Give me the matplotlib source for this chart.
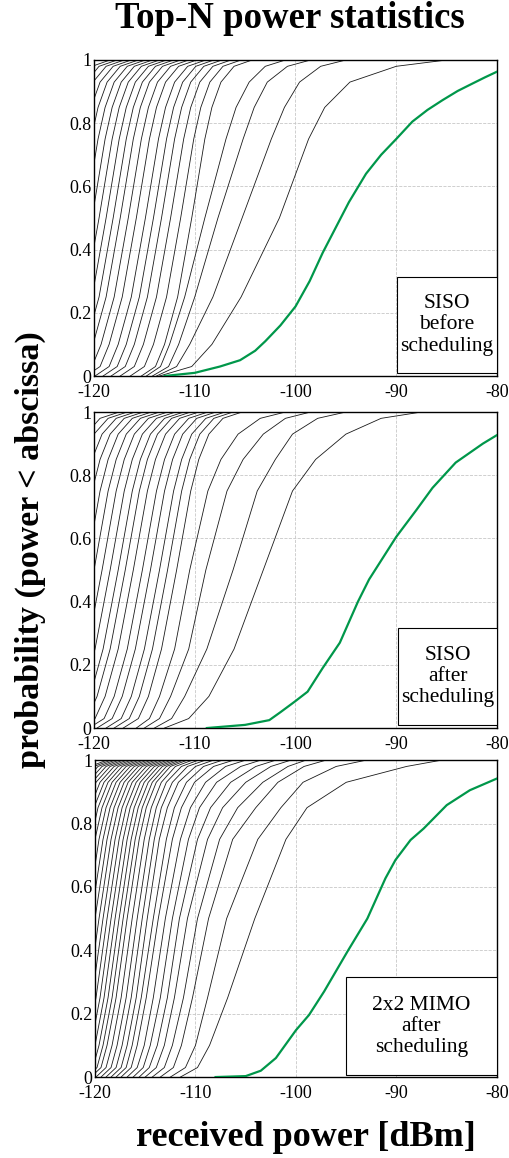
import matplotlib
matplotlib.use('Agg')
import matplotlib.pyplot as plt
from matplotlib.patches import Rectangle

plt.rcParams['font.family'] = ['Liberation Serif', 'DejaVu Serif']

prob_levels = [0, 0.03, 0.1, 0.25, 0.5, 0.75, 0.85, 0.93, 0.98, 1.0]

# SISO before scheduling: received power [dBm] at each probability level (top-2 ... top-N)
siso_before_black = [
    [-113.5, -110.3, -108.3, -105.4, -101.6, -98.7, -97.1, -94.6, -90.0, -85.0],
    [-113.8, -111.8, -110.5, -108.2, -105.3, -102.4, -101.1, -99.6, -97.5, -95.0],
    [-114.2, -112.6, -111.6, -110.0, -107.7, -105.2, -104.1, -102.8, -100.8, -98.5],
    [-114.8, -113.4, -112.5, -111.0, -109.0, -106.9, -105.9, -104.6, -103.0, -101.0],
    [-115.3, -113.9, -113.0, -111.7, -110.3, -109.0, -108.3, -107.4, -106.1, -104.3],
    [-116.4, -115.0, -114.1, -112.8, -111.4, -110.1, -109.4, -108.5, -107.2, -105.4],
    [-117.4, -116.0, -115.1, -113.8, -112.4, -111.1, -110.4, -109.5, -108.2, -106.4],
    [-118.3, -116.9, -116.0, -114.7, -113.3, -112.0, -111.3, -110.4, -109.1, -107.3],
    [-119.1, -117.7, -116.8, -115.5, -114.1, -112.8, -112.1, -111.2, -109.9, -108.1],
    [-119.9, -118.5, -117.6, -116.3, -114.9, -113.6, -112.9, -112.0, -110.7, -108.9],
    [-120.8, -119.4, -118.5, -117.2, -115.8, -114.5, -113.8, -112.9, -111.6, -109.8],
    [-121.6, -120.2, -119.3, -118.0, -116.6, -115.3, -114.6, -113.7, -112.4, -110.6],
    [-122.4, -121.0, -120.1, -118.8, -117.4, -116.1, -115.4, -114.5, -113.2, -111.4],
    [-123.1, -121.7, -120.8, -119.5, -118.1, -116.8, -116.1, -115.2, -113.9, -112.1],
    [-123.8, -122.4, -121.5, -120.2, -118.8, -117.5, -116.8, -115.9, -114.6, -112.8],
    [-124.5, -123.1, -122.2, -120.9, -119.5, -118.2, -117.5, -116.6, -115.3, -113.5],
    [-125.2, -123.8, -122.9, -121.6, -120.2, -118.9, -118.2, -117.3, -116.0, -114.2],
    [-125.9, -124.5, -123.6, -122.3, -120.9, -119.6, -118.9, -118.0, -116.7, -114.9],
    [-126.6, -125.2, -124.3, -123.0, -121.6, -120.3, -119.6, -118.7, -117.4, -115.6],
    [-127.3, -125.9, -125.0, -123.7, -122.3, -121.0, -120.3, -119.4, -118.1, -116.3],
    [-128.0, -126.6, -125.7, -124.4, -123.0, -121.7, -121.0, -120.1, -118.8, -117.0],
    [-128.7, -127.3, -126.4, -125.1, -123.7, -122.4, -121.7, -120.8, -119.5, -117.7],
    [-129.4, -128.0, -127.1, -125.8, -124.4, -123.1, -122.4, -121.5, -120.2, -118.4],
]
siso_before_green_x = [-113.0, -110.0, -107.5, -105.5, -104.0, -103.0, -101.5, -100.0,
                       -98.6, -97.3, -96.0, -94.7, -93.0, -91.5, -90.0, -88.4, -86.9,
                       -85.4, -83.9, -82.4, -81.2, -80.0]
siso_before_green_p = [0.0, 0.01, 0.03, 0.05, 0.08, 0.11, 0.16, 0.22,
                       0.30, 0.39, 0.47, 0.55, 0.64, 0.70, 0.75, 0.805, 0.842,
                       0.873, 0.902, 0.926, 0.945, 0.963]

# SISO after scheduling
siso_after_black = [
    [-113.0, -110.6, -108.6, -106.1, -103.2, -100.3, -98.0, -95.0, -91.5, -87.5],
    [-114.0, -112.3, -111.0, -108.8, -106.2, -103.8, -102.0, -100.3, -97.8, -95.0],
    [-115.0, -113.5, -112.4, -110.6, -108.9, -106.8, -105.2, -103.2, -101.0, -98.5],
    [-115.8, -114.5, -113.5, -112.0, -110.5, -108.7, -107.4, -105.7, -103.5, -101.0],
    [-117.1, -115.6, -114.6, -113.3, -111.8, -110.4, -109.6, -108.6, -107.2, -105.3],
    [-118.0, -116.5, -115.5, -114.2, -112.7, -111.3, -110.5, -109.5, -108.1, -106.2],
    [-118.8, -117.3, -116.3, -115.0, -113.5, -112.1, -111.3, -110.3, -108.9, -107.0],
    [-119.7, -118.2, -117.2, -115.9, -114.4, -113.0, -112.2, -111.2, -109.8, -107.9],
    [-120.5, -119.0, -118.0, -116.7, -115.2, -113.8, -113.0, -112.0, -110.6, -108.7],
    [-121.4, -119.9, -118.9, -117.6, -116.1, -114.7, -113.9, -112.9, -111.5, -109.6],
    [-122.2, -120.7, -119.7, -118.4, -116.9, -115.5, -114.7, -113.7, -112.3, -110.4],
    [-122.9, -121.4, -120.4, -119.1, -117.6, -116.2, -115.4, -114.4, -113.0, -111.1],
    [-123.7, -122.2, -121.2, -119.9, -118.4, -117.0, -116.2, -115.2, -113.8, -111.9],
    [-124.5, -123.0, -122.0, -120.7, -119.2, -117.8, -117.0, -116.0, -114.6, -112.7],
    [-125.3, -123.8, -122.8, -121.5, -120.0, -118.6, -117.8, -116.8, -115.4, -113.5],
    [-126.1, -124.6, -123.6, -122.3, -120.8, -119.4, -118.6, -117.6, -116.2, -114.3],
    [-126.9, -125.4, -124.4, -123.1, -121.6, -120.2, -119.4, -118.4, -117.0, -115.1],
    [-127.7, -126.2, -125.2, -123.9, -122.4, -121.0, -120.2, -119.2, -117.8, -115.9],
    [-128.5, -127.0, -126.0, -124.7, -123.2, -121.8, -121.0, -120.0, -118.6, -116.7],
    [-129.3, -127.8, -126.8, -125.5, -124.0, -122.6, -121.8, -120.8, -119.4, -117.5],
]
siso_after_green_x = [-108.8, -105.0, -102.6, -101.5, -100.1, -98.8, -97.3, -95.6, -93.8,
                      -92.7, -91.7, -90.0, -88.0, -86.4, -84.1, -81.4, -80.0]
siso_after_green_p = [0.0, 0.01, 0.025, 0.05, 0.083, 0.115, 0.19, 0.27, 0.40,
                      0.47, 0.52, 0.605, 0.69, 0.76, 0.84, 0.90, 0.927]

# 2x2 MIMO after scheduling
mimo_after_black = [
    [-111.5, -109.8, -108.6, -106.8, -104.1, -101.0, -98.9, -95.0, -89.0, -85.5],
    [-112.5, -111.0, -110.0, -108.8, -106.9, -103.8, -101.5, -99.3, -96.0, -93.0],
    [-113.5, -112.2, -111.4, -110.3, -108.7, -106.3, -104.0, -101.8, -99.2, -97.0],
    [-114.3, -113.1, -112.3, -111.2, -109.8, -107.6, -105.8, -103.3, -100.8, -99.0],
    [-115.0, -113.9, -113.1, -112.1, -110.8, -108.8, -107.3, -105.0, -102.5, -100.5],
    [-115.6, -114.6, -113.8, -112.8, -111.6, -109.8, -108.5, -106.5, -104.0, -102.0],
    [-116.2, -115.2, -114.5, -113.5, -112.3, -110.7, -109.6, -107.9, -105.5, -103.5],
    [-116.8, -115.8, -115.1, -114.2, -113.0, -111.5, -110.5, -109.0, -107.0, -105.0],
    [-117.4, -116.4, -115.8, -114.9, -113.7, -112.3, -111.4, -110.1, -108.2, -106.2],
    [-117.9, -116.9, -116.3, -115.4, -114.2, -112.9, -112.1, -110.9, -109.2, -107.3],
    [-118.4, -117.4, -116.8, -115.9, -114.8, -113.6, -112.8, -111.7, -110.0, -108.2],
    [-118.9, -117.9, -117.3, -116.4, -115.3, -114.1, -113.4, -112.3, -110.8, -109.0],
    [-119.4, -118.4, -117.8, -116.9, -115.8, -114.6, -113.9, -112.9, -111.4, -109.7],
    [-119.9, -118.9, -118.3, -117.4, -116.3, -115.1, -114.4, -113.4, -112.0, -110.3],
    [-120.4, -119.4, -118.8, -117.9, -116.8, -115.6, -114.9, -113.9, -112.5, -110.8],
    [-120.8, -119.8, -119.2, -118.3, -117.2, -116.0, -115.3, -114.3, -112.9, -111.2],
    [-121.2, -120.2, -119.6, -118.7, -117.6, -116.4, -115.7, -114.7, -113.3, -111.6],
    [-121.6, -120.6, -120.0, -119.1, -118.0, -116.8, -116.1, -115.1, -113.7, -112.0],
    [-122.0, -121.0, -120.4, -119.5, -118.4, -117.2, -116.5, -115.5, -114.1, -112.4],
    [-122.4, -121.4, -120.8, -119.9, -118.8, -117.6, -116.9, -115.9, -114.5, -112.8],
    [-122.8, -121.8, -121.2, -120.3, -119.2, -118.0, -117.3, -116.3, -114.9, -113.2],
    [-123.2, -122.2, -121.6, -120.7, -119.6, -118.4, -117.7, -116.7, -115.3, -113.6],
    [-123.6, -122.6, -122.0, -121.1, -120.0, -118.8, -118.1, -117.1, -115.7, -114.0],
    [-124.0, -123.0, -122.4, -121.5, -120.4, -119.2, -118.5, -117.5, -116.1, -114.4],
    [-124.4, -123.4, -122.8, -121.9, -120.8, -119.6, -118.9, -117.9, -116.5, -114.8],
    [-124.8, -123.8, -123.2, -122.3, -121.2, -120.0, -119.3, -118.3, -116.9, -115.2],
    [-125.2, -124.2, -123.6, -122.7, -121.6, -120.4, -119.7, -118.7, -117.3, -115.6],
    [-125.6, -124.6, -124.0, -123.1, -122.0, -120.8, -120.1, -119.1, -117.7, -116.0],
    [-126.0, -125.0, -124.4, -123.5, -122.4, -121.2, -120.5, -119.5, -118.1, -116.4],
    [-126.4, -125.4, -124.8, -123.9, -122.8, -121.6, -120.9, -119.9, -118.5, -116.8],
    [-126.8, -125.8, -125.2, -124.3, -123.2, -122.0, -121.3, -120.3, -118.9, -117.2],
    [-127.2, -126.2, -125.6, -124.7, -123.6, -122.4, -121.7, -120.7, -119.3, -117.6],
    [-127.6, -126.6, -126.0, -125.1, -124.0, -122.8, -122.1, -121.1, -119.7, -118.0],
    [-128.0, -127.0, -126.4, -125.5, -124.4, -123.2, -122.5, -121.5, -120.1, -118.4],
    [-128.4, -127.4, -126.8, -125.9, -124.8, -123.6, -122.9, -121.9, -120.5, -118.8],
]
mimo_after_green_x = [-108.0, -105.0, -103.5, -102.0, -100.0, -98.7, -97.2, -94.9, -92.9,
                      -91.1, -90.1, -88.6, -87.3, -85.0, -82.7, -80.0]
mimo_after_green_p = [0.0, 0.003, 0.02, 0.06, 0.148, 0.196, 0.27, 0.395, 0.50,
                      0.627, 0.685, 0.748, 0.784, 0.858, 0.905, 0.942]

x_ticks = [-120, -110, -100, -90, -80]
y_ticks = [0, 0.2, 0.4, 0.6, 0.8, 1]
y_tick_labels = ['0', '0.2', '0.4', '0.6', '0.8', '1']

green = '#00974a'

fig = plt.figure(figsize=(5.09, 11.58), dpi=100)

panels = [
    # axes rect, black curves, green x, green p, box text, box rect (axes fraction)
    ([0.1847, 0.6753, 0.7917, 0.2729], siso_before_black, siso_before_green_x,
     siso_before_green_p, 'SISO\nbefore\nscheduling', (0.752, 0.010, 0.248, 0.303)),
    ([0.1847, 0.3713, 0.7917, 0.2729], siso_after_black, siso_after_green_x,
     siso_after_green_p, 'SISO\nafter\nscheduling', (0.755, 0.010, 0.245, 0.306)),
    ([0.1866, 0.0699, 0.7898, 0.2737], mimo_after_black, mimo_after_green_x,
     mimo_after_green_p, '2x2 MIMO\nafter\nscheduling', (0.624, 0.006, 0.376, 0.309)),
]

for rect, black, gx, gp, label, box in panels:
    ax = fig.add_axes(rect)
    for curve in black:
        ax.plot(curve, prob_levels, color='#1a1a1a', linewidth=0.6, zorder=2)
    ax.plot(gx, gp, color=green, linewidth=1.6, zorder=3)

    ax.set_xlim(-120, -80)
    ax.set_ylim(0, 1)
    ax.set_xticks(x_ticks)
    ax.set_xticklabels([str(t) for t in x_ticks])
    ax.set_yticks(y_ticks)
    ax.set_yticklabels(y_tick_labels)
    ax.tick_params(length=0, labelsize=13)
    ax.tick_params(axis='x', pad=6)
    ax.tick_params(axis='y', pad=2)
    ax.grid(True, linestyle='--', color='#c8c8c8', linewidth=0.6, zorder=0)
    for s in ax.spines.values():
        s.set_linewidth(1.0)

    # label box in the lower right corner
    bx, by, bw, bh = box
    ax.add_patch(Rectangle((bx, by), bw, bh, transform=ax.transAxes, facecolor='white',
                           edgecolor='black', linewidth=0.8, zorder=5))
    ax.text(bx + bw / 2, by + bh / 2, label, transform=ax.transAxes, ha='center',
            va='center', fontsize=15.5, linespacing=1.15, zorder=6)

fig.text(0.57, 1 - 19 / 1158, 'Top-N power statistics', ha='center', va='center',
         fontsize=26.5, fontweight='bold')
fig.text(0.06, 1 - 550 / 1158, 'probability (power < abscissa)', rotation=90,
         ha='center', va='center', fontsize=24.5, fontweight='bold')
fig.text(0.60, 1 - 1137 / 1158, 'received power [dBm]', ha='center', va='center',
         fontsize=26, fontweight='bold')

fig.savefig('out.png', dpi=100)
